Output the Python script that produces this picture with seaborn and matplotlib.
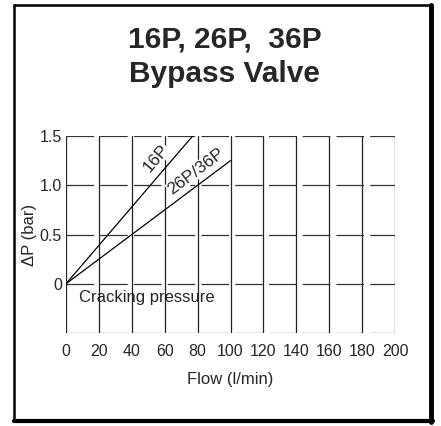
import matplotlib

matplotlib.use("Agg")
import matplotlib.pyplot as plt
import pandas as pd
import seaborn as sns

sns.set_theme(style="white")
plt.rcParams["font.family"] = ["Liberation Sans", "DejaVu Sans"]

# data
flow_16p = [0, 20, 40, 60, 77]
dp_16p = [0, 0.39, 0.78, 1.17, 1.5]
flow_26p = [0, 20, 40, 60, 80, 100]
dp_26p = [0, 0.25, 0.5, 0.75, 1.0, 1.25]

x_ticks = [0, 20, 40, 60, 80, 100, 120, 140, 160, 180, 200]
y_ticks = [0, 0.5, 1.0, 1.5]
y_tick_labels = ["0", "0.5", "1.0", "1.5"]

df = pd.concat([
    pd.DataFrame({"flow": flow_16p, "dp": dp_16p, "valve": "16P"}),
    pd.DataFrame({"flow": flow_26p, "dp": dp_26p, "valve": "26P/36P"}),
])

fig = plt.figure(figsize=(4.41, 4.26), dpi=100)
ax = fig.add_axes([0.1497, 0.2183, 0.746, 0.4624])

sns.lineplot(data=df, x="flow", y="dp", units="valve", estimator=None,
             color="black", linewidth=0.9, ax=ax, legend=False)

ax.set_xlim(0, 200)
ax.set_ylim(-0.5, 1.5)

# grid, scanned look: vertical solid, horizontal broken
for x in x_ticks:
    ax.axvline(x, color="#222222", linewidth=0.9, zorder=0)
for y in [-0.5] + y_ticks:
    ax.axhline(y, color="#333333", linewidth=0.9, dashes=(22, 5), zorder=0)

for s in ax.spines.values():
    s.set_visible(False)

ax.set_xticks(x_ticks)
ax.set_xticklabels([str(v) for v in x_ticks], fontsize=11.5)
ax.set_yticks(y_ticks)
ax.set_yticklabels(y_tick_labels, fontsize=11.5)
ax.tick_params(axis="x", length=0, pad=8)
ax.tick_params(axis="y", length=0, pad=3)
ax.set_xlabel("Flow (l/min)", fontsize=12, labelpad=9)
ax.set_ylabel("ΔP (bar)", fontsize=12, labelpad=2)

lbl_box = dict(facecolor="white", edgecolor="none", pad=0.3)
ax.text(55, 1.27, "16P", rotation=50, ha="center", va="center",
        fontsize=12.5, rotation_mode="anchor", bbox=lbl_box, zorder=3)
ax.text(79, 1.14, "26P/36P", rotation=37, ha="center", va="center",
        fontsize=12.5, rotation_mode="anchor", bbox=lbl_box, zorder=3)
ax.text(8, -0.14, "Cracking pressure", ha="left", va="center", fontsize=12)

# title
fig.text(0.51, 1 - 47 / 426, "16P, 26P,  36P", ha="center", va="baseline",
         fontsize=21.5, fontweight="bold")
fig.text(0.51, 1 - 82 / 426, "Bypass Valve", ha="center", va="baseline",
         fontsize=21.5, fontweight="bold")

# scanned frame
W, H = 441, 426
fig.add_artist(plt.Line2D([14 / W, 14 / W], [1 - 5 / H, 1 - 421 / H],
                          color="black", linewidth=1.8))
fig.add_artist(plt.Line2D([14 / W, 432 / W], [1 - 5 / H, 1 - 5 / H],
                          color="black", linewidth=1.8))
fig.add_artist(plt.Line2D([431 / W, 431 / W], [1 - 5 / H, 1 - 422 / H],
                          color="black", linewidth=3.5))
fig.add_artist(plt.Line2D([14 / W, 433 / W], [1 - 421 / H, 1 - 421 / H],
                          color="black", linewidth=3.0))

fig.savefig("out.png", dpi=100)
